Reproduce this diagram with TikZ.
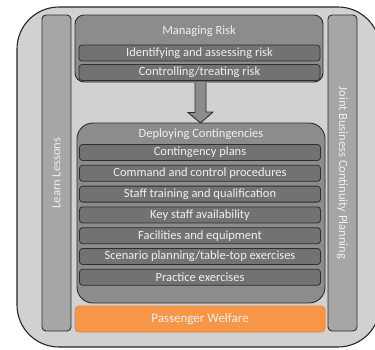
\documentclass[tikz,border=0pt]{standalone}
\usepackage{fontspec}
\setmainfont{Carlito}
\usepackage{tikz}

\definecolor{outerfill}{HTML}{D1D1D1}
\definecolor{barfill}{HTML}{A6A6A6}
\definecolor{boxfill}{HTML}{8C8C8C}
\definecolor{itemfill}{HTML}{727272}
\definecolor{edgegray}{HTML}{2E2E2E}
\definecolor{welfare}{HTML}{F79646}
\definecolor{welfareedge}{HTML}{E4873F}
\definecolor{lighttext}{HTML}{F0F0F0}

\tikzset{
  sidebar/.style={draw=edgegray, fill=barfill, rounded corners=4, line width=0.9pt,
    minimum width=316, minimum height=29, inner sep=0pt, text=lighttext, font=\fontsize{12.5}{14}\selectfont},
  group/.style={draw=edgegray, fill=boxfill, line width=0.9pt, inner sep=0pt},
  item/.style={draw=edgegray, fill=itemfill, rounded corners=3, line width=0.8pt,
    minimum width=241, minimum height=16, inner sep=0pt, text=lighttext, font=\fontsize{12.5}{14}\selectfont},
  title/.style={text=lighttext, inner sep=0pt, font=\fontsize{12.5}{14}\selectfont},
  blockarrow/.style={draw=edgegray, fill=boxfill, line width=0.9pt, line join=miter}
}

\begin{document}
\begin{tikzpicture}[x=1pt, y=-1pt]
    \useasboundingbox (0,0) rectangle (375,349);
    % outer frame
    \draw[fill=outerfill, draw=black!85, line width=1.1pt, rounded corners=42] (17,7) rectangle (380,347);

    % side bars
    \node[sidebar, rotate=90] (learn) at (56.5,173) {Learn Lessons};
    \node[sidebar, rotate=-90] (joint) at (342.5,173) {Joint Business Continuity Planning};

    % managing risk
    \node[group, rounded corners=9, minimum width=248, minimum height=67] (risk) at (199,48.5) {};
    \node[title] (risktitle) at (199,31) {Managing Risk};
    \node[item] (identify) at (199.5,53) {Identifying and assessing risk};
    \node[item] (control) at (199.5,72.5) {Controlling/treating risk};

    % arrow between the groups
    \coordinate (arrtop) at (200.5,82.5);
    \coordinate (arrtip) at (200.5,123);
    \draw[blockarrow] (arrtop) ++(-5.5,0) -- ++(0,30) -- ++(-7,0) -- (arrtip)
        -- ++(12.5,-11) -- ++(-7,0) -- ++(0,-29.5);

    % deploying contingencies
    \node[group, rounded corners=16, minimum width=248, minimum height=180] (deploy) at (201,213) {};
    \node[title] (deploytitle) at (201,134.5) {Deploying Contingencies};
    \foreach \txt [count=\i] in {Contingency plans, Command and control procedures,
        Staff training and qualification, Key staff availability, Facilities and equipment,
        Scenario planning/table-top exercises, Practice exercises}
      \node[item] (plan\i) at (200,{152.5+20.8*(\i-1)}) {\txt};

    % passenger welfare
    \node[draw=welfareedge, fill=welfare, rounded corners=4, line width=0.8pt,
      minimum width=250, minimum height=26, inner sep=0pt, text=lighttext,
      font=\fontsize{13}{15}\selectfont] (welfarebox) at (200,319) {Passenger Welfare};
\end{tikzpicture}
\end{document}
